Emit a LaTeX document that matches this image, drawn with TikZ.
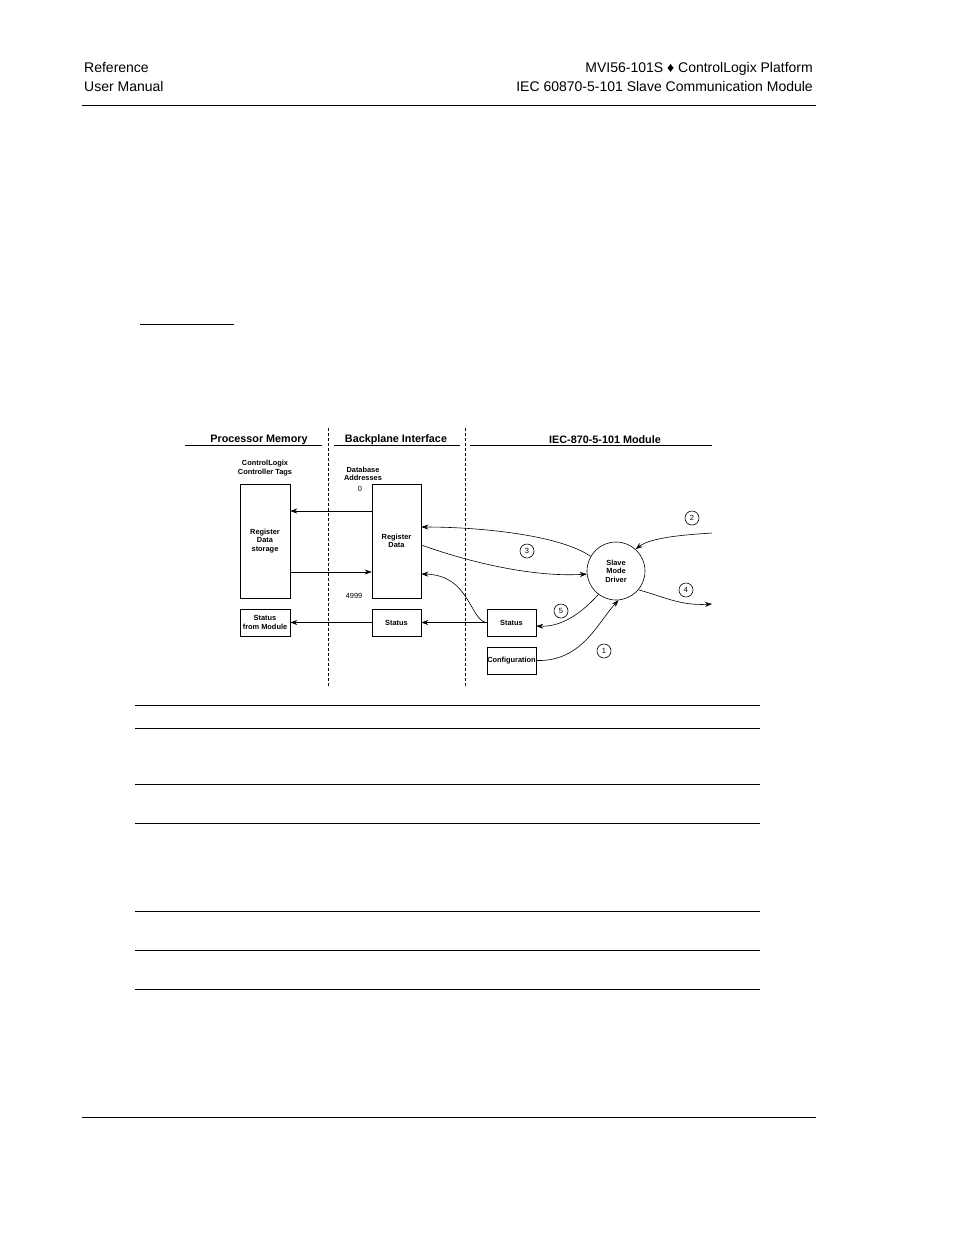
\documentclass[tikz,border=0pt]{standalone}
\usepackage{fontspec}
\setmainfont{Liberation Sans}
\usetikzlibrary{arrows.meta}
\begin{document}
\begin{tikzpicture}[x=1pt,y=-1pt,
  hdr/.style={font=\fontsize{14}{16}\selectfont, inner sep=0},
  colhead/.style={font=\bfseries\fontsize{10.8}{12}\selectfont, inner sep=0},
  lbl/.style={font=\bfseries\fontsize{7.4}{8.6}\selectfont, align=center, inner sep=0},
  small/.style={font=\fontsize{7.4}{8.6}\selectfont, align=center, inner sep=0},
  box/.style={draw, line width=0.6pt, inner sep=0, font=\bfseries\fontsize{7.4}{8.6}\selectfont, align=center},
  arr/.style={-{Stealth[length=7pt,width=5pt]}, line width=0.6pt},
  num/.style={draw, circle, minimum size=14pt, inner sep=0, line width=0.6pt, font=\fontsize{7.5}{8}\selectfont},
  rule/.style={line width=1pt},
  sep/.style={line width=0.8pt, dash pattern=on 3pt off 2pt}
]
\useasboundingbox (0,0) rectangle (954,1235);
% page header
\node[hdr, anchor=base west] (h1) at (84,72) {Reference};
\node[hdr, anchor=base west] (h2) at (84,91) {User Manual};
\node[hdr, anchor=base east] (h3) at (813,72) {MVI56-101S ♦ ControlLogix Platform};
\node[hdr, anchor=base east] (h4) at (813,91) {IEC 60870-5-101 Slave Communication Module};
\draw[rule] (82,105) -- (816,105);
\draw[rule] (82,1117) -- (816,1117);
\draw[rule] (140,324) -- (234,324);
% table rules
\foreach \yy in {705,728,784,823,911,950,989} \draw[line width=0.9pt] (135,\yy) -- (760,\yy);
% column headings
\node[colhead] (pm) at (259,439.5) {Processor Memory};
\node[colhead] (bi) at (396,439.5) {Backplane Interface};
\node[colhead] (im) at (605,439.5) {IEC-870-5-101 Module};
\draw[line width=0.6pt] (185,445) -- (322,445);
\draw[line width=0.6pt] (334,445) -- (460,445);
\draw[line width=0.6pt] (470,445) -- (712,445);
\draw[sep] (328,428) -- (328,686);
\draw[sep] (465,428) -- (465,686);
% labels
\node[lbl] (clt) at (265,468) {ControlLogix\\Controller Tags};
\node[lbl] (dba) at (363,474) {Database\\Addresses};
\node[small] (z0) at (360,489) {0};
\node[small] (z4999) at (354,596) {4999};
% boxes
\node[box, minimum width=50pt, minimum height=114pt] (storage) at (265,541) {Register\\Data\\storage};
\node[box, minimum width=49pt, minimum height=114pt] (regdata) at (396.5,541) {Register\\Data};
\node[box, minimum width=50pt, minimum height=27pt] (statmod) at (265,622.5) {Status\\from Module};
\node[box, minimum width=49pt, minimum height=27pt] (statbp) at (396.5,622.5) {Status};
\node[box, minimum width=49pt, minimum height=27pt] (statm) at (511.5,622.5) {Status};
\node[box, minimum width=49pt, minimum height=27pt] (config) at (511.5,660.5) {Configuration};
\node[box, circle, minimum size=58pt] (driver) at (616,571) {Slave\\Mode\\Driver};
% coordinates for free ends
\coordinate (in2) at (712,533);
\coordinate (out4) at (712,604);
% connectors
\draw[arr] ([yshift=30pt]regdata.west) -- ([yshift=30pt]storage.east);
\draw[arr] ([yshift=-31pt]storage.east) -- ([yshift=-31pt]regdata.west);
\draw[arr] (statm.west) -- (statbp.east);
\draw[arr] (statbp.west) -- (statmod.east);
\draw[arr] (statm.west) .. controls (470,621) and (470,575) .. ([yshift=-33pt]regdata.east);
\draw[arr] (driver.150) .. controls (560,535) and (480,527) .. ([yshift=14pt]regdata.east);
\draw[arr] ([yshift=-4pt]regdata.east) .. controls (480,566) and (540,577) .. (driver.186);
\draw[arr] (in2) .. controls (680,535) and (650,538) .. (driver.48);
\draw[arr] (driver.-40) .. controls (662,596) and (680,606) .. (out4);
\draw[arr] (driver.233) .. controls (580,615) and (560,627) .. ([yshift=-3.5pt]statm.east);
\draw[arr] (config.east) .. controls (582,662) and (598,622) .. (driver.-85);
% circled numbers
\node[num] (n2) at (692,518) {2};
\node[num] (n3) at (527,551) {3};
\node[num] (n4) at (686,590) {4};
\node[num] (n5) at (561,611) {5};
\node[num] (n1) at (604,651) {1};
\end{tikzpicture}
\end{document}
